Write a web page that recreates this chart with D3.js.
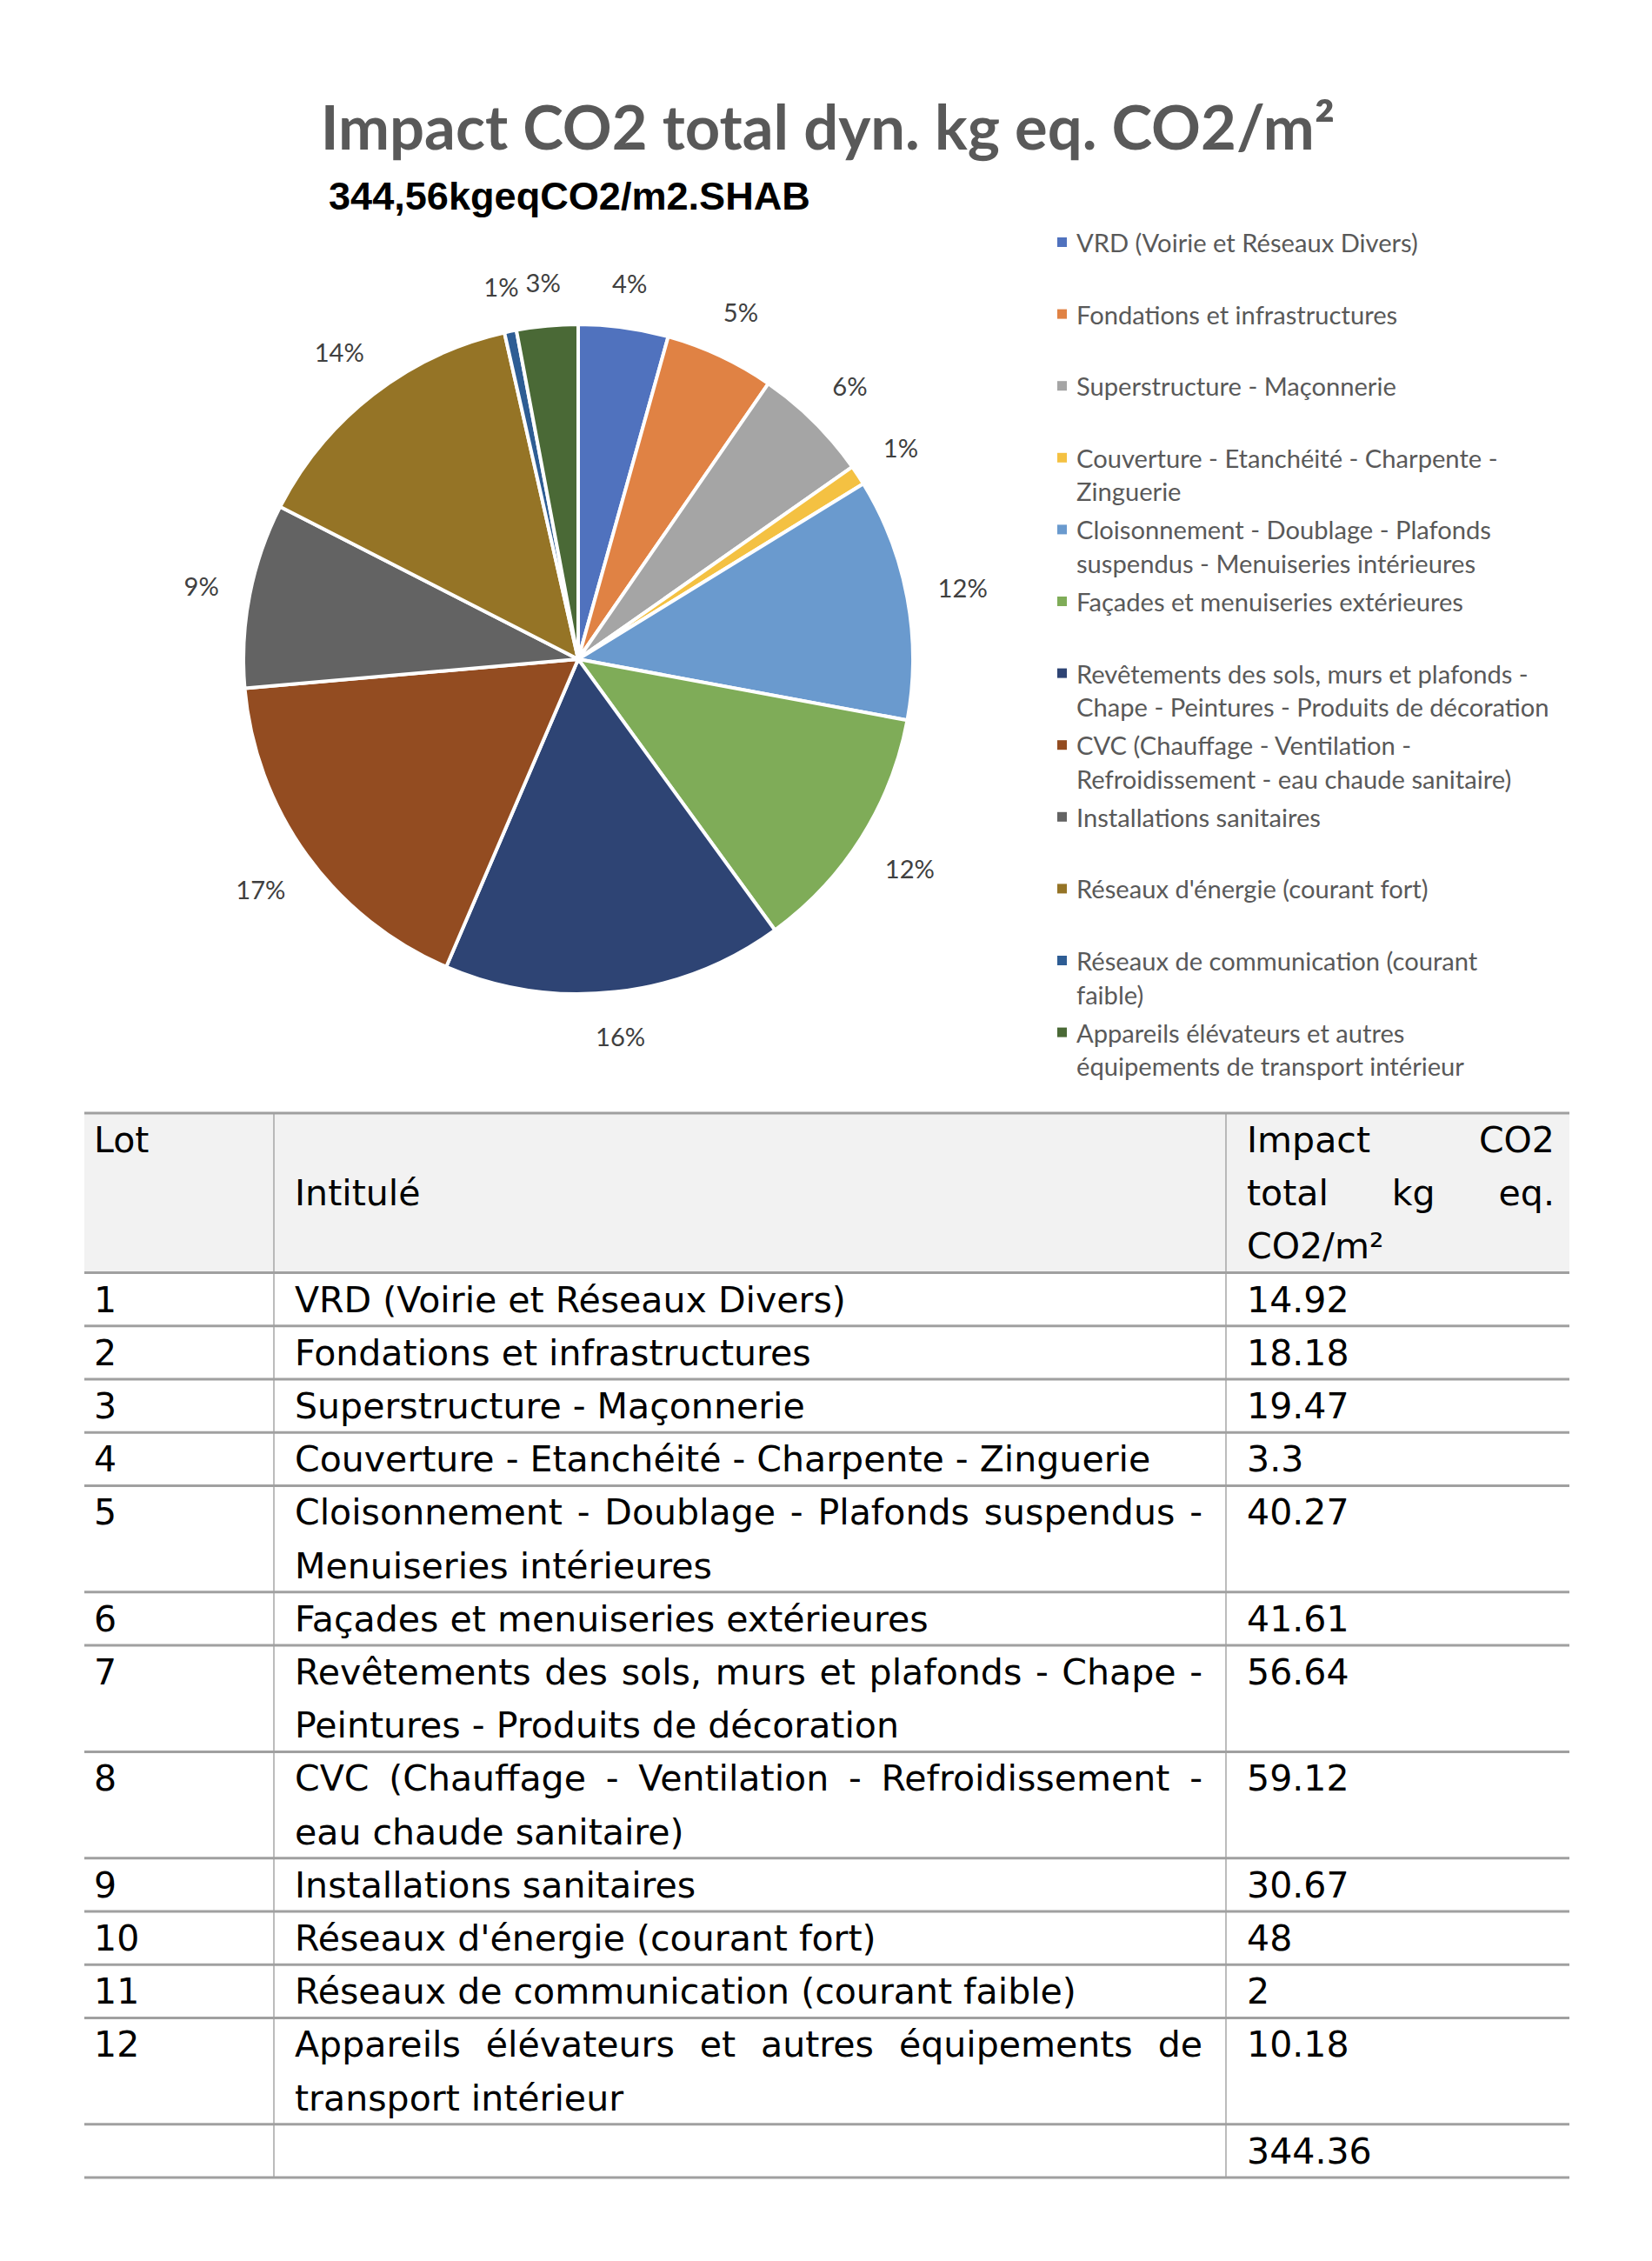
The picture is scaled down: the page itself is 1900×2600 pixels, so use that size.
<!DOCTYPE html>
<html>
<head>
<meta charset="utf-8">
<script src="https://cdn.jsdelivr.net/npm/d3@7"></script>
<style>
  html, body { margin: 0; padding: 0; background: #fff; }
  svg { display: block; }
</style>
</head>
<body>
<svg id="chart" width="1900" height="2600"></svg>
<script>
// ---------------- DATA ----------------
const titleText = "Impact CO2 total dyn. kg eq. CO2/m²";
const subtitleText = "344,56kgeqCO2/m2.SHAB";

const lots = ["1","2","3","4","5","6","7","8","9","10","11","12"];
const categories = [
  "VRD (Voirie et Réseaux Divers)",
  "Fondations et infrastructures",
  "Superstructure - Maçonnerie",
  "Couverture - Etanchéité - Charpente - Zinguerie",
  "Cloisonnement - Doublage - Plafonds suspendus - Menuiseries intérieures",
  "Façades et menuiseries extérieures",
  "Revêtements des sols, murs et plafonds - Chape - Peintures - Produits de décoration",
  "CVC (Chauffage - Ventilation - Refroidissement - eau chaude sanitaire)",
  "Installations sanitaires",
  "Réseaux d'énergie (courant fort)",
  "Réseaux de communication (courant faible)",
  "Appareils élévateurs et autres équipements de transport intérieur"
];
const values = [14.92, 18.18, 19.47, 3.3, 40.27, 41.61, 56.64, 59.12, 30.67, 48, 2, 10.18];
const valueLabels = ["14.92","18.18","19.47","3.3","40.27","41.61","56.64","59.12","30.67","48","2","10.18"];
const totalLabel = "344.36";
const colors = ["#5072BE","#E08244","#A5A5A5","#F4C142","#6A9ACE","#7FAC58",
                "#2E4474","#934C21","#636363","#957426","#2E5D94","#4A6936"];

// line breaks as displayed in the legend
const legendLines = [
  ["VRD (Voirie et Réseaux Divers)"],
  ["Fondations et infrastructures"],
  ["Superstructure - Maçonnerie"],
  ["Couverture - Etanchéité - Charpente -", "Zinguerie"],
  ["Cloisonnement - Doublage - Plafonds", "suspendus - Menuiseries intérieures"],
  ["Façades et menuiseries extérieures"],
  ["Revêtements des sols, murs et plafonds -", "Chape - Peintures - Produits de décoration"],
  ["CVC (Chauffage - Ventilation -", "Refroidissement - eau chaude sanitaire)"],
  ["Installations sanitaires"],
  ["Réseaux d'énergie (courant fort)"],
  ["Réseaux de communication (courant", "faible)"],
  ["Appareils élévateurs et autres", "équipements de transport intérieur"]
];
// line breaks as displayed in the table
const tableLines = [
  ["VRD (Voirie et Réseaux Divers)"],
  ["Fondations et infrastructures"],
  ["Superstructure - Maçonnerie"],
  ["Couverture - Etanchéité - Charpente - Zinguerie"],
  ["Cloisonnement - Doublage - Plafonds suspendus -", "Menuiseries intérieures"],
  ["Façades et menuiseries extérieures"],
  ["Revêtements des sols, murs et plafonds - Chape -", "Peintures - Produits de décoration"],
  ["CVC (Chauffage - Ventilation - Refroidissement -", "eau chaude sanitaire)"],
  ["Installations sanitaires"],
  ["Réseaux d'énergie (courant fort)"],
  ["Réseaux de communication (courant faible)"],
  ["Appareils élévateurs et autres équipements de", "transport intérieur"]
];
const headerLot = ["Lot"];
const headerName = ["", "Intitulé"];
const headerValue = ["Impact CO2", "total kg eq.", "CO2/m²"];

// ---------------- HELPERS ----------------
const svg = d3.select("#chart");
svg.append("rect").attr("width", 1900).attr("height", 2600).attr("fill", "#fff");

function measure(text, font, size, weight) {
  const t = svg.append("text").attr("font-family", font).attr("font-size", size)
    .attr("font-weight", weight || "normal").text(text);
  const w = t.node().getComputedTextLength();
  t.remove();
  return w;
}
function fitSize(text, font, weight, targetW) {
  const w = measure(text, font, 100, weight);
  return 100 * targetW / w;
}

// ---------------- TITLE ----------------
const titleFont = "Lato";
const titleSize = fitSize(titleText, titleFont, "bold", 1167);
svg.append("text").attr("x", 952).attr("y", 172).attr("text-anchor", "middle")
  .attr("font-family", titleFont).attr("font-weight", "bold")
  .attr("font-size", titleSize).attr("fill", "#595959").text(titleText);

const subFont = "Liberation Sans";
const subSize = fitSize(subtitleText, subFont, "bold", 554);
svg.append("text").attr("x", 378).attr("y", 241)
  .attr("font-family", subFont).attr("font-weight", "bold")
  .attr("font-size", subSize).attr("fill", "#000").text(subtitleText);

// ---------------- PIE ----------------
const cx = 665, cy = 758, R = 385;
const total = d3.sum(values);
const pie = d3.pie().sort(null).value(d => d)(values);
const arc = d3.arc().innerRadius(0).outerRadius(R);
const gPie = svg.append("g").attr("transform", `translate(${cx},${cy})`);
gPie.selectAll("path").data(pie).join("path")
  .attr("d", arc).attr("fill", (d, i) => colors[i])
  .attr("stroke", "#fff").attr("stroke-width", 4).attr("stroke-linejoin", "round");

const legendFont = "Lato";
const legendSize = fitSize(legendLines[0][0], legendFont, "normal", 393);
const pctFmt = d3.format(".0%");
const gap = 34;
pie.forEach((d, i) => {
  const a = (d.startAngle + d.endAngle) / 2;
  const ux = Math.sin(a), uy = -Math.cos(a);
  const label = pctFmt(d.value / total);
  const w = measure(label, legendFont, legendSize);
  const h = legendSize * 1.0;
  const dist = R + gap + (w / 2) * Math.abs(ux) + (h / 2) * Math.abs(uy);
  gPie.append("text").attr("x", ux * dist).attr("y", uy * dist)
    .attr("text-anchor", "middle").attr("dominant-baseline", "central")
    .attr("font-family", legendFont).attr("font-size", legendSize)
    .attr("fill", "#404040").text(label);
});

// ---------------- LEGEND ----------------
const legX = 1238, legY0 = 278.5, legStep = 82.6, legLine = 38.5, mk = 11;
legendLines.forEach((lines, i) => {
  const y = legY0 + i * legStep;
  svg.append("rect").attr("x", 1216).attr("y", y - mk / 2).attr("width", mk).attr("height", mk)
    .attr("fill", colors[i]);
  lines.forEach((ln, j) => {
    svg.append("text").attr("x", legX).attr("y", y + j * legLine)
      .attr("dominant-baseline", "central")
      .attr("font-family", legendFont).attr("font-size", legendSize)
      .attr("fill", "#595959").text(ln);
  });
});

// ---------------- TABLE ----------------
const tFont = "DejaVu Sans";
const tSize = fitSize(tableLines[0][0], tFont, "normal", 634);
const xL = 97, xR = 1805, xC1 = 315, xC2 = 1410;
const xLot = 108, xName = 339, xNameR = 1383, xVal = 1434, xValR = 1788;
const tTop = 1280, lineH = 61.2, baseOff = 45;

function plain(x, y, txt) {
  svg.append("text").attr("x", x).attr("y", y).attr("font-family", tFont)
    .attr("font-size", tSize).attr("fill", "#000").text(txt);
}
function justify(x0, x1, y, txt) {
  const words = txt.split(" ");
  const ws = words.map(w => measure(w, tFont, tSize));
  const sp = (x1 - x0 - d3.sum(ws)) / (words.length - 1);
  let x = x0;
  words.forEach((w, k) => { plain(x, y, w); x += ws[k] + sp; });
}

// header
const headerRows = 3;
svg.append("rect").attr("x", xL).attr("y", tTop).attr("width", xR - xL)
  .attr("height", headerRows * lineH).attr("fill", "#F2F2F2");
plain(xLot, tTop + baseOff, headerLot[0]);
headerName.forEach((t, j) => { if (t) plain(xName, tTop + baseOff + j * lineH, t); });
headerValue.forEach((t, j) => {
  const yy = tTop + baseOff + j * lineH;
  if (j < headerValue.length - 1) justify(xVal, xValR, yy, t); else plain(xVal, yy, t);
});

const hLines = [tTop, tTop + headerRows * lineH];
let rowY = tTop + headerRows * lineH;
tableLines.forEach((lines, i) => {
  plain(xLot, rowY + baseOff, lots[i]);
  lines.forEach((ln, j) => {
    const yy = rowY + baseOff + j * lineH;
    if (j < lines.length - 1) justify(xName, xNameR, yy, ln); else plain(xName, yy, ln);
  });
  plain(xVal, rowY + baseOff, valueLabels[i]);
  rowY += lines.length * lineH;
  hLines.push(rowY);
});
plain(xVal, rowY + baseOff, totalLabel);
rowY += lineH;
hLines.push(rowY);

// vertical lines
[xC1, xC2].forEach(x => {
  svg.append("line").attr("x1", x).attr("x2", x).attr("y1", tTop).attr("y2", rowY)
    .attr("stroke", "#A6A6A6").attr("stroke-width", 1.5);
});
// horizontal lines
hLines.forEach(yy => {
  svg.append("line").attr("x1", xL).attr("x2", xR).attr("y1", yy).attr("y2", yy)
    .attr("stroke", "#A0A0A0").attr("stroke-width", 3);
});
</script>
</body>
</html>
